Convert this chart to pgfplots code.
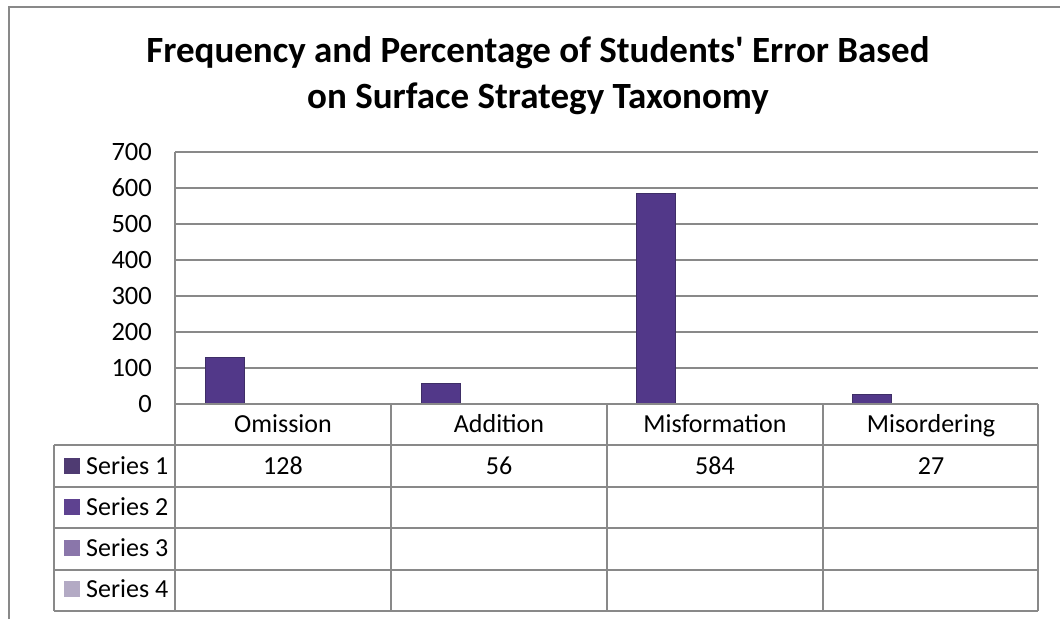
\documentclass[border=0pt]{standalone}
\usepackage{fontspec}
\setmainfont{Carlito}
\usepackage{pgfplots}
\pgfplotsset{compat=1.18}
\definecolor{gridc}{HTML}{898989}
\definecolor{barc}{HTML}{523889}
\definecolor{bard}{HTML}{3E2E66}
\definecolor{sa}{HTML}{4F3B72}
\definecolor{sb}{HTML}{5E4290}
\definecolor{sc}{HTML}{8A76AA}
\definecolor{sd}{HTML}{B3AAC4}
\begin{document}
\begin{tikzpicture}[x=1pt,y=1pt]
\useasboundingbox (0,0) rectangle (1060,619);
% outer frame
\draw[gridc, line width=1.5pt] (9,0) -- (9,612) -- (1060,612);
% title
\node[anchor=base, inner sep=0pt, font=\fontsize{37}{44}\selectfont\bfseries] at (538,556) {Frequency and Percentage of Students\textquotesingle{} Error Based};
\node[anchor=base, inner sep=0pt, font=\fontsize{37}{44}\selectfont\bfseries] at (538,510) {on Surface Strategy Taxonomy};
\begin{axis}[
  at={(175pt,215pt)}, anchor=south west,
  scale only axis, width=863pt, height=252pt,
  xmin=-0.5, xmax=3.5, ymin=0, ymax=700,
  ytick distance=100, xtick=\empty,
  axis x line=bottom, axis y line=left,
  axis line style={-, gridc, line width=1.5pt},
  ymajorgrids, grid style={gridc, line width=1.5pt},
  major tick length=0pt,
  /pgf/number format/assume math mode=true,
  yticklabel style={font=\fontsize{26.5}{30}\selectfont, anchor=east, inner sep=0pt, xshift=-23pt},
  clip=false,
]
\addplot[ybar, bar width=39pt, bar shift=-58pt, fill=barc, draw=bard, line width=1pt]
  coordinates {(0,128) (1,56) (2,584) (3,27)};
\end{axis}
% data table grid
\begin{scope}[gridc, line width=1.5pt]
\draw (175,215) -- (1038,215);
\foreach \y in {174,132,91,49,8} \draw (54,\y) -- (1038,\y);
\draw (54,174) -- (54,8);
\draw (175,215) -- (175,8);
\foreach \x in {391,607,823,1038} \draw (\x,215) -- (\x,8);
\end{scope}
\begin{scope}[every node/.style={font=\fontsize{26}{30}\selectfont, inner sep=0pt}]
\node[anchor=base] at (283,186) {Omission};
\node[anchor=base] at (499,186) {Addition};
\node[anchor=base] at (715,186) {Misformation};
\node[anchor=base] at (931,186) {Misordering};
\node[anchor=base] at (283,145) {128};
\node[anchor=base] at (499,145) {56};
\node[anchor=base] at (715,145) {584};
\node[anchor=base] at (931,145) {27};
\node[anchor=base west] at (86,145) {Series 1};
\node[anchor=base west] at (86,104) {Series 2};
\node[anchor=base west] at (86,63) {Series 3};
\node[anchor=base west] at (86,22) {Series 4};
\end{scope}
\fill[sa] (64,145) rectangle (80,161);
\fill[sb] (64,104) rectangle (80,120);
\fill[sc] (64,63) rectangle (80,79);
\fill[sd] (64,22) rectangle (80,38);
\end{tikzpicture}
\end{document}
